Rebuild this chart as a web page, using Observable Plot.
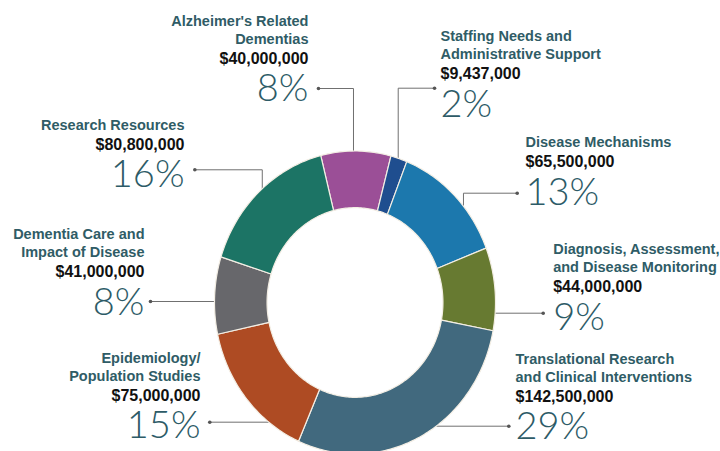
<!DOCTYPE html>
<html><head><meta charset="utf-8">
<script src="https://cdn.jsdelivr.net/npm/d3@7"></script>
<script src="https://cdn.jsdelivr.net/npm/@observablehq/plot@0.6"></script>
<style>body{margin:0;background:#fff} svg{display:block}</style>
</head><body><div id="chart"></div>
<script>
// ---- data ----
const categories = [
  "Alzheimer's Related Dementias",
  "Staffing Needs and Administrative Support",
  "Disease Mechanisms",
  "Diagnosis, Assessment, and Disease Monitoring",
  "Translational Research and Clinical Interventions",
  "Epidemiology/ Population Studies",
  "Dementia Care and Impact of Disease",
  "Research Resources"
];
const labelLines = [
  ["Alzheimer's Related", "Dementias"],
  ["Staffing Needs and", "Administrative Support"],
  ["Disease Mechanisms"],
  ["Diagnosis, Assessment,", "and Disease Monitoring"],
  ["Translational Research", "and Clinical Interventions"],
  ["Epidemiology/", "Population Studies"],
  ["Dementia Care and", "Impact of Disease"],
  ["Research Resources"]
];
const amounts = [40000000, 9437000, 65500000, 44000000, 142500000, 75000000, 41000000, 80800000];
const percentLabels = ["8%", "2%", "13%", "9%", "29%", "15%", "8%", "16%"];

// ---- styles / layout (data units: donut outer radius = 1) ----
const sliceColors = ["#9b4f97", "#1f4e8f", "#1c78ad", "#677a31", "#41697e", "#ae4b23", "#67676b", "#1c7465"];
const startAngleDeg = -14.1;
const innerRatio = 0.626;
// label block anchor: baseline of last name line
const labelAnchors = [
  {x: -0.331, y: 1.708, align: "end"},
  {x: 0.6085, y: 1.604, align: "start"},
  {x: 1.2135, y: 1.025, align: "start"},
  {x: 1.4107, y: 0.200, align: "start"},
  {x: 1.1423, y: -0.5215, align: "start"},
  {x: -1.0996, y: -0.515, align: "end"},
  {x: -1.4982, y: 0.299, align: "end"},
  {x: -1.2135, y: 1.140, align: "end"}
];
// leader polylines: dot first, ends inside the ring (hidden under the slice)
const leaders = [
  [[-0.260, 1.4125], [-0.0107, 1.4125], [-0.0107, 0.871]],
  [[0.566, 1.4145], [0.3075, 1.4145], [0.3075, 0.871]],
  [[1.1544, 0.7215], [0.772, 0.7215], [0.772, 0.574]],
  [[1.3395, -0.0706], [0.822, -0.0706]],
  [[1.0947, -0.8165], [0.466, -0.8165]],
  [[-1.0335, -0.790], [-0.459, -0.790]],
  [[-1.4555, 0.0066], [-0.815, 0.0066]],
  [[-1.140, 0.876], [-0.660, 0.876], [-0.660, 0.673]]
];

// ---- derived ----
const total = d3.sum(amounts);
const donutPts = [];
let acc = startAngleDeg * Math.PI / 180;
amounts.forEach((v, i) => {
  const a0 = acc, a1 = acc + v / total * 2 * Math.PI;
  acc = a1;
  const n = Math.max(4, Math.ceil((a1 - a0) / (Math.PI / 180)));
  const ring = [];
  for (let k = 0; k <= n; k++) { const a = a0 + (a1 - a0) * k / n; ring.push([Math.sin(a), Math.cos(a)]); }
  for (let k = n; k >= 0; k--) { const a = a0 + (a1 - a0) * k / n; ring.push([innerRatio * Math.sin(a), innerRatio * Math.cos(a)]); }
  ring.push(ring[0]);
  ring.forEach(([x, y]) => donutPts.push({cat: categories[i], x, y}));
});
const leaderPts = leaders.flatMap((pts, i) => pts.map(([x, y]) => ({id: i, x, y})));
const dots = leaders.map(pts => ({x: pts[0][0], y: pts[0][1]}));
const fmt = d3.format("$,");
const labels = categories.map((c, i) => ({
  name: labelLines[i].join("\n"),
  amount: fmt(amounts[i]),
  pct: percentLabels[i],
  ...labelAnchors[i]
}));

const nameColor = "#2f5c66", pctColor = "#2d5b67";
function textMarks(align) {
  const d = labels.filter(l => l.align === align);
  return [
    Plot.text(d, {x: "x", y: "y", text: "name", textAnchor: align, lineAnchor: "bottom",
      lineHeight: 18 / 14.5, fontSize: 14.5, fontWeight: "bold", fontFamily: "Liberation Sans, Arial, sans-serif", fill: nameColor}),
    Plot.text(d, {x: "x", y: "y", dy: 20, text: "amount", textAnchor: align, lineAnchor: "bottom",
      fontSize: 16, fontWeight: "bold", fontFamily: "Liberation Sans, Arial, sans-serif", fill: "#111"}),
    Plot.text(d, {x: "x", y: "y", dy: 57.5, text: "pct", textAnchor: align, lineAnchor: "bottom",
      fontSize: 38, fontWeight: 300, fontFamily: "Lato, Roboto, sans-serif", fill: pctColor})
  ];
}

const chart = Plot.plot({
  width: 720, height: 451, margin: 0,
  x: {domain: [-1, 1], range: [214, 495], axis: null},
  y: {domain: [-1, 1], range: [453.5, 150.5], axis: null},
  color: {domain: categories, range: sliceColors},
  marks: [
    Plot.line(leaderPts, {x: "x", y: "y", z: "id", stroke: "#707070", strokeWidth: 1}),
    Plot.dot(dots, {x: "x", y: "y", r: 1.8, fill: "#555", stroke: null}),
    Plot.line(donutPts, {x: "x", y: "y", z: "cat", fill: "cat", stroke: "#f3eee4", strokeWidth: 1.2, curve: "linear"}),
    ...textMarks("start"),
    ...textMarks("end")
  ]
});
document.getElementById("chart").appendChild(chart);
</script>
</body></html>
